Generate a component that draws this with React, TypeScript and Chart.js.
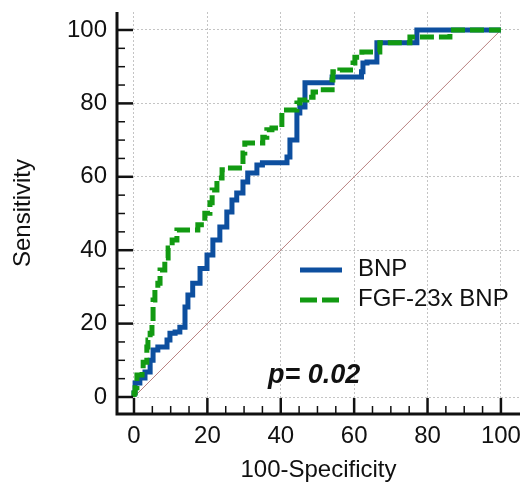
import React, { useEffect, useRef } from 'react';
import { Chart, registerables } from 'chart.js';

Chart.register(...registerables);

// ROC curve for BNP (100-Specificity vs Sensitivity)
const bnpFpr = [0, 0.3, 1.6, 3, 4.4, 5.2, 6.5, 9, 9.8, 11.2, 12.5, 13.9, 14.7, 16, 18, 19.9, 21.5, 23.4, 25.3, 26.7, 28, 29.7, 31, 33.5, 35, 41.7, 42.5, 44.4, 45.2, 46.6, 47.4, 54, 54.2, 62, 62.4, 63.5, 66.2, 67, 77.1, 77.4, 100];
const bnpTpr = [0, 1.1, 3.8, 5.2, 6.8, 10, 12.8, 13.6, 15.5, 17.4, 17.7, 19, 24.5, 27.8, 31, 35, 38.7, 42.8, 46.3, 50.4, 53.7, 55.6, 58.6, 61, 63.2, 63.8, 65.4, 70, 77.4, 79, 85.6, 85.6, 87.2, 87.2, 88.6, 91, 91.3, 96.5, 96.5, 100, 100];

// ROC curve for FGF-23 x BNP
const comboFpr = [0, 0.3, 0.8, 2.2, 2.5, 3.5, 3.8, 4.4, 4.9, 5.2, 5.7, 6.5, 7.1, 8.4, 9.3, 10.4, 11.7, 13.1, 17.4, 19.3, 20.7, 21.3, 22.6, 24, 24.8, 29.7, 30.2, 32.2, 35.1, 36.2, 37.6, 40.3, 40.6, 44.4, 45.2, 47.1, 48.8, 50.7, 54, 54.2, 56.1, 59.7, 60.2, 62.1, 67, 69.8, 75.2, 76, 86.1, 86.6, 100];
const comboTpr = [0, 1.1, 2.5, 6, 7.4, 9.5, 13.6, 15.5, 17.4, 20.2, 26.4, 29.2, 31, 34.6, 37.9, 40.6, 42.8, 45.5, 45.5, 46.9, 50.1, 52.9, 56.4, 59.7, 61.9, 62.4, 66.5, 69.2, 69.2, 70.8, 72.8, 73.3, 77.7, 78.2, 80.1, 80.9, 81.7, 83.1, 83.7, 86.4, 88.6, 89.1, 91, 92.6, 94, 96.5, 96.5, 98.1, 98.1, 100, 100];

// Reference (chance) line
const refFpr = [0, 100];
const refTpr = [0, 100];

const majorTicks = [0, 20, 40, 60, 80, 100];
const minorTicks = [5, 10, 15, 25, 30, 35, 45, 50, 55, 65, 70, 75, 85, 90, 95];
const seriesLabels = ['BNP', 'FGF-23x BNP'];
const pValueText = 'p= 0.02';
const xTitle = '100-Specificity';
const yTitle = 'Sensitivity';

const BLUE = '#0d4f9f';
const GREEN = '#129a12';
const INK = '#111111';
const FONT = "'Liberation Sans', Arial, Helvetica, sans-serif";

const toXY = (xs: number[], ys: number[]) => xs.map((x, i) => ({ x, y: ys[i] }));

const overlayPlugin = {
  id: 'rocOverlay',
  afterDatasetsDraw(chart: any) {
    const { ctx, chartArea: ca, scales } = chart;
    const xs = scales.x;
    const ys = scales.y;
    ctx.save();
    ctx.strokeStyle = INK;
    ctx.lineCap = 'butt';
    const drawTicks = (vals: number[], len: number, w: number) => {
      ctx.lineWidth = w;
      vals.forEach((v) => {
        const px = xs.getPixelForValue(v);
        ctx.beginPath();
        ctx.moveTo(px, ca.bottom);
        ctx.lineTo(px, ca.bottom - len);
        ctx.stroke();
        const py = ys.getPixelForValue(v);
        ctx.beginPath();
        ctx.moveTo(ca.left, py);
        ctx.lineTo(ca.left + len, py);
        ctx.stroke();
      });
    };
    drawTicks(majorTicks, 16, 2.5);
    drawTicks(minorTicks, 8, 1.5);
    ctx.lineWidth = 3;
    ctx.beginPath();
    ctx.moveTo(ca.left, ca.top);
    ctx.lineTo(ca.left, ca.bottom);
    ctx.lineTo(ca.right, ca.bottom);
    ctx.stroke();

    // legend
    const lx0 = ca.left + 183;
    const lx1 = ca.left + 225;
    const tx = ca.left + 241;
    const rows = [ca.top + 258, ca.top + 288];
    const dsets = chart.data.datasets;
    [0, 1].forEach((i) => {
      const ds = dsets.find((d: any) => d.label === seriesLabels[i]);
      ctx.strokeStyle = ds.borderColor;
      ctx.lineWidth = 5;
      ctx.setLineDash(i === 1 ? [17, 5] : []);
      ctx.beginPath();
      ctx.moveTo(lx0, rows[i]);
      ctx.lineTo(i === 1 ? lx1 - 3 : lx1, rows[i]);
      ctx.stroke();
      ctx.setLineDash([]);
      ctx.fillStyle = INK;
      ctx.font = `24px ${FONT}`;
      ctx.textBaseline = 'middle';
      ctx.textAlign = 'left';
      ctx.fillText(seriesLabels[i], tx, rows[i] - 1);
    });

    // p-value annotation
    ctx.font = `italic bold 27px ${FONT}`;
    ctx.textBaseline = 'alphabetic';
    ctx.fillStyle = INK;
    ctx.fillText(pValueText, ca.left + 151, ca.bottom - 31);
    ctx.restore();
  },
};

export default function App() {
  const canvasRef = useRef<HTMLCanvasElement | null>(null);

  useEffect(() => {
    const canvas = canvasRef.current;
    if (!canvas) return;
    Chart.defaults.font.family = FONT;
    const setTicks = (s: any) => {
      s.ticks = majorTicks.map((v) => ({ value: v }));
    };
    const chart = new Chart(canvas, {
      type: 'line',
      data: {
        datasets: [
          {
            label: seriesLabels[1],
            data: toXY(comboFpr, comboTpr),
            borderColor: GREEN,
            backgroundColor: GREEN,
            borderWidth: 5,
            borderDash: [14, 5],
            stepped: 'after',
            pointRadius: 0,
            fill: false,
            borderJoinStyle: 'miter',
            borderCapStyle: 'butt',
            order: 0,
          },
          {
            label: seriesLabels[0],
            data: toXY(bnpFpr, bnpTpr),
            borderColor: BLUE,
            backgroundColor: BLUE,
            borderWidth: 5,
            stepped: 'after',
            pointRadius: 0,
            fill: false,
            borderJoinStyle: 'miter',
            borderCapStyle: 'butt',
            order: 1,
          },
          {
            label: 'reference',
            data: toXY(refFpr, refTpr),
            borderColor: '#b98080',
            borderWidth: 1,
            pointRadius: 0,
            fill: false,
            order: 2,
          },
        ],
      },
      options: {
        responsive: false,
        animation: false,
        events: [],
        layout: { padding: { top: 12, right: 4, left: 0, bottom: 0 } },
        plugins: {
          legend: { display: false },
          tooltip: { enabled: false },
        },
        scales: {
          x: {
            type: 'linear',
            min: -4.63,
            max: 105.2,
            afterBuildTicks: setTicks,
            afterFit: (s: any) => {
              s.height = 74;
              s.paddingLeft = 0;
              s.paddingRight = 0;
            },
            grid: { color: '#c4c4c4', lineWidth: 1, drawTicks: false },
            border: { display: false, dash: [2, 2] },
            ticks: { font: { size: 24 }, color: INK, padding: 8, maxRotation: 0, autoSkip: false },
            title: {
              display: true,
              text: xTitle,
              font: { size: 24 },
              color: INK,
              padding: { top: 0, bottom: 3 },
            },
          },
          y: {
            type: 'linear',
            min: -4.63,
            max: 104.9,
            afterBuildTicks: setTicks,
            afterFit: (s: any) => {
              s.width = 117;
              s.paddingTop = 0;
              s.paddingBottom = 0;
            },
            grid: { color: '#c4c4c4', lineWidth: 1, drawTicks: false },
            border: { display: false, dash: [2, 2] },
            ticks: { font: { size: 24 }, color: INK, padding: 10, autoSkip: false },
            title: {
              display: true,
              text: yTitle,
              font: { size: 24 },
              color: INK,
              padding: { top: 9, bottom: 0 },
            },
          },
        },
      },
      plugins: [overlayPlugin],
    } as any);
    return () => chart.destroy();
  }, []);

  return (
    <div style={{ position: 'absolute', left: 0, top: 0, width: 524, height: 488, background: '#fff' }}>
      <canvas ref={canvasRef} width={524} height={488} style={{ display: 'block' }} />
    </div>
  );
}
